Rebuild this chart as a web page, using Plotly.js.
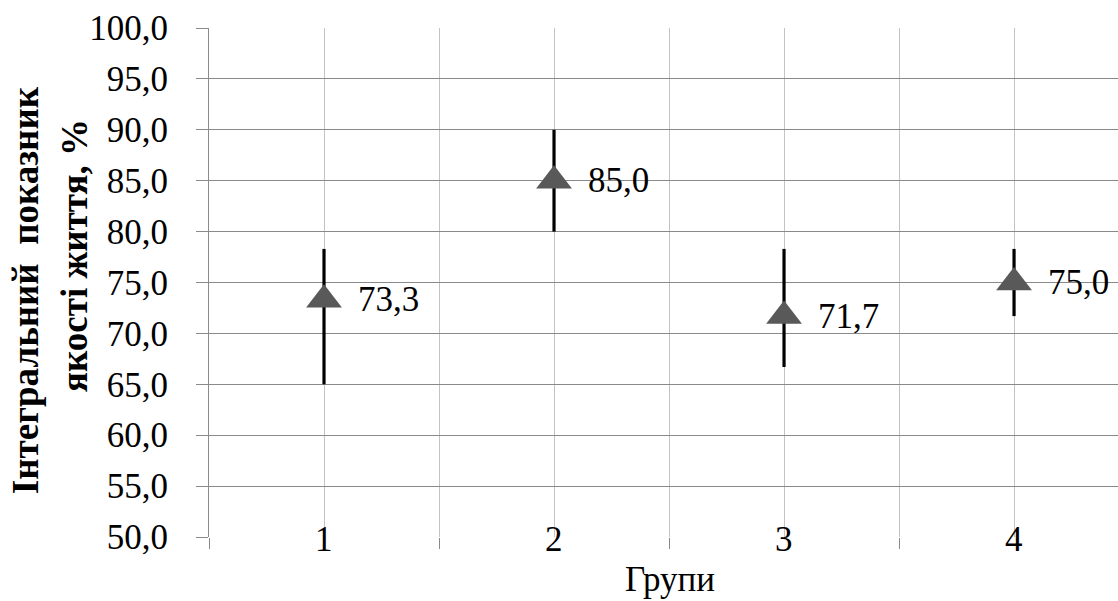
<!DOCTYPE html>
<html>
<head>
<meta charset="utf-8">
<script src="https://cdn.plot.ly/plotly-3.0.1.min.js"></script>
<style>
html,body{margin:0;padding:0;background:#fff;overflow:hidden;}
#chart{width:1118px;height:601px;}
#chart svg text, #chart svg tspan { font-family: 'Liberation Serif', 'Times New Roman', serif !important; }
</style>
</head>
<body>
<div id="chart"></div>
<script>
var groups = [1, 2, 3, 4];
var groupLabels = ['1', '2', '3', '4'];
var values = [73.3, 85.0, 71.7, 75.0];
var upper = [78.3, 90.0, 78.3, 78.3];
var lower = [65.0, 80.0, 66.7, 71.7];
var xTitle = 'Групи';
var yTitleLines = ['Інтегральний  показник', 'якості життя, %'];

var FONT = 'Liberation Serif';
var fmt = function (v) { return v.toFixed(1).replace('.', ','); };

var trace = {
  type: 'scatter',
  mode: 'markers',
  x: groups,
  y: values,
  marker: {symbol: 'triangle-up', size: 31, color: '#595959'},
  error_y: {
    type: 'data', symmetric: false,
    array: upper.map(function (u, i) { return +(u - values[i]).toFixed(2); }),
    arrayminus: lower.map(function (l, i) { return +(values[i] - l).toFixed(2); }),
    color: '#000', thickness: 3.2, width: 0
  },
  cliponaxis: false,
  hoverinfo: 'skip'
};

var annotations = groups.map(function (g, i) {
  return {x: g, y: 50, xref: 'x', yref: 'y', text: groupLabels[i], showarrow: false,
          xanchor: 'center', yanchor: 'middle', yshift: -2,
          font: {family: FONT, size: 35, color: '#000'}};
});
groups.forEach(function (g, i) {
  annotations.push({x: g, y: values[i], xref: 'x', yref: 'y', text: fmt(values[i]), showarrow: false,
    xanchor: 'left', yanchor: 'middle', xshift: 32,
    font: {family: FONT, size: 35, color: '#000'}});
});
annotations.push({x: (670 - 209) / (1118 - 209), y: 0, xref: 'paper', yref: 'paper', text: xTitle,
  showarrow: false, xanchor: 'center', yanchor: 'top', yshift: -21,
  font: {family: FONT, size: 35, color: '#000'}});
annotations.push({x: 0, y: 0.485, xref: 'paper', yref: 'paper', text: '<b>' + yTitleLines[0] + '</b>',
  showarrow: false, textangle: -90, xanchor: 'center', yanchor: 'middle', xshift: -184,
  font: {family: FONT, size: 37, color: '#000'}});
annotations.push({x: 0, y: 0.552, xref: 'paper', yref: 'paper', text: '<b>' + yTitleLines[1] + '</b>',
  showarrow: false, textangle: -90, xanchor: 'center', yanchor: 'middle', xshift: -135,
  font: {family: FONT, size: 37, color: '#000'}});

var layout = {
  width: 1118, height: 601,
  margin: {l: 209, r: 0, t: 28, b: 64, pad: 0},
  paper_bgcolor: '#fff', plot_bgcolor: '#fff',
  separators: ', ',
  showlegend: false,
  font: {family: FONT, size: 35, color: '#000'},
  xaxis: {
    range: [0.5, 4.452],
    tickmode: 'array', tickvals: [0.5, 1.5, 2.5, 3.5, 4.5],
    showticklabels: false,
    ticks: 'outside', ticklen: 11, tickcolor: '#8a8a8a', tickwidth: 1,
    showgrid: true, gridcolor: '#c4c4c4', gridwidth: 1,
    minor: {tickmode: 'array', tickvals: groups, showgrid: true, gridcolor: '#c4c4c4', gridwidth: 1, ticks: ''},
    showline: false, zeroline: false, fixedrange: true
  },
  yaxis: {
    range: [50, 100],
    tickmode: 'linear', tick0: 50, dtick: 5,
    tickformat: '.1f',
    ticks: 'outside', ticklen: 12, tickcolor: '#8a8a8a', tickwidth: 1,
    ticklabelstandoff: 21,
    tickfont: {family: FONT, size: 35, color: '#000'},
    showgrid: true, gridcolor: '#8a8a8a', gridwidth: 1,
    showline: true, linecolor: '#8a8a8a', linewidth: 1,
    zeroline: false, fixedrange: true
  },
  annotations: annotations
};

Plotly.newPlot('chart', [trace], layout, {displayModeBar: false});
</script>
</body>
</html>
